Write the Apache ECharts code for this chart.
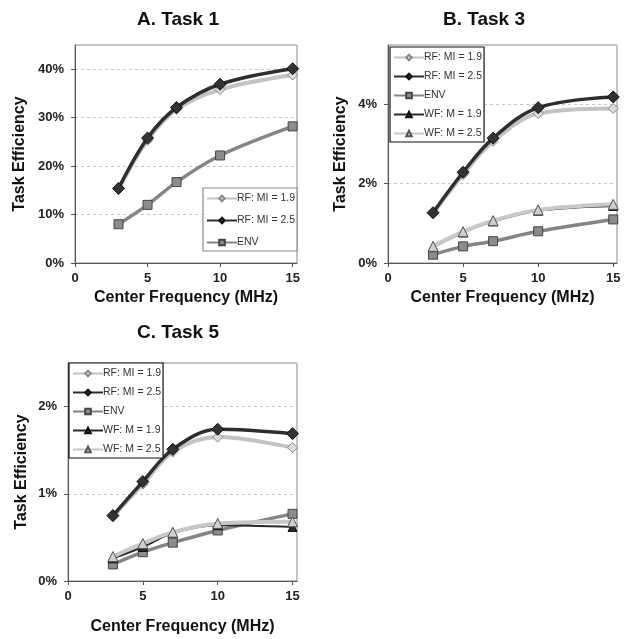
<!DOCTYPE html>
<html>
<head>
<meta charset="utf-8">
<script src="https://cdn.jsdelivr.net/npm/echarts@6/dist/echarts.min.js"></script>
<style>
html,body{margin:0;padding:0;background:#fff;}
#chart{width:633px;height:639px;}
</style>
</head>
<body>
<div id="chart"></div>
<script>
// ---- data ----
var freqs = [3, 5, 7, 10, 15];
var xTicks = [0, 5, 10, 15];

// A. Task 1 (%)
var a_rf19 = [15.2, 25.3, 31.7, 35.8, 38.8];
var a_rf25 = [15.4, 25.8, 32.1, 36.9, 40.1];
var a_env  = [8.0, 12.0, 16.7, 22.2, 28.2];

// B. Task 3 (%)
var b_rf19 = [1.25, 2.23, 3.07, 3.77, 3.90];
var b_rf25 = [1.27, 2.29, 3.15, 3.92, 4.19];
var b_env  = [0.21, 0.42, 0.55, 0.80, 1.10];
var b_wf19 = [0.40, 0.77, 1.05, 1.32, 1.44];
var b_wf25 = [0.42, 0.79, 1.07, 1.34, 1.48];

// C. Task 5 (%)
var c_rf19 = [0.74, 1.11, 1.48, 1.65, 1.53];
var c_rf25 = [0.75, 1.14, 1.51, 1.74, 1.69];
var c_env  = [0.19, 0.33, 0.44, 0.58, 0.77];
var c_wf19 = [0.26, 0.39, 0.55, 0.64, 0.62];
var c_wf25 = [0.28, 0.43, 0.56, 0.66, 0.68];

var titles = ['A. Task 1', 'B. Task 3', 'C. Task 5'];
var yAxisName = 'Task Efficiency';
var xAxisName = 'Center Frequency (MHz)';
var names = ['RF: MI = 1.9', 'RF: MI = 2.5', 'ENV', 'WF: M = 1.9', 'WF: M = 2.5'];

// ---- styles ----
var FONT = '"Liberation Sans", Arial, sans-serif';
var styles = [
  {color:'#c3c3c3', width:4, symbol:'diamond', size:10, fill:'#dcdcdc', border:'#8a8a8a'},
  {color:'#2e2e2e', width:3.5, symbol:'diamond', size:12, fill:'#333', border:'#111'},
  {color:'#858585', width:3.5, symbol:'rect', size:9, fill:'#8c8c8c', border:'#444'},
  {color:'#2a2a2a', width:2, symbol:'triangle', size:9, fill:'#2a2a2a', border:'#111'},
  {color:'#c8c8c8', width:4, symbol:'triangle', size:10, fill:'#cfcfcf', border:'#555'}
];

function pairs(vals){ return freqs.map(function(f,i){ return [f, vals[i]]; }); }

var grids = [
  {left:75, top:45, width:222, height:218},
  {left:388, top:45, width:229, height:218},
  {left:68, top:363, width:229, height:218}
];
var yMax = [45, 5.5, 2.5];
var yInt = [10, 2, 1];
var xMax = [15.3, 15.25, 15.3];
var yNameGap = [47, 39, 38];
var xNameGap = [27, 27, 38];

var chartData = [
  [a_rf19, a_rf25, a_env],
  [b_rf19, b_rf25, b_env, b_wf19, b_wf25],
  [c_rf19, c_rf25, c_env, c_wf19, c_wf25]
];

var option = {
  backgroundColor:'#fff',
  animation:false,
  title:[], grid:[], xAxis:[], yAxis:[], series:[], legend:[]
};

var titlePos = [[173, 5], [479, 5], [173, 318]];

for (var g = 0; g < 3; g++) {
  option.title.push({
    text: titles[g], left: titlePos[g][0], top: titlePos[g][1], textAlign:'center',
    textStyle:{fontFamily:FONT, fontSize:19, fontWeight:'bold', color:'#111'}
  });
  var gr = grids[g];
  option.grid.push({left:gr.left, top:gr.top, width:gr.width, height:gr.height,
    show:true, borderColor:'#8a8a8a', borderWidth:1, backgroundColor:'transparent', containLabel:false});
  option.xAxis.push({
    type:'value', gridIndex:g, min:0, max:xMax[g], interval:5,
    name:xAxisName, nameLocation:'middle', nameGap:xNameGap[g],
    nameTextStyle:{fontFamily:FONT, fontSize:16, fontWeight:'bold', color:'#111'},
    axisLine:{show:true, onZero:false, lineStyle:{color:'#555', width:1}},
    axisTick:{show:true, length:4, lineStyle:{color:'#555'}},
    axisLabel:{show:true, margin:9, fontFamily:FONT, fontSize:13, fontWeight:'bold', color:'#222',
      showMaxLabel:false,
      formatter:function(v){ return xTicks.indexOf(v) >= 0 ? String(v) : ''; }},
    splitLine:{show:false}
  });
  (function(gi){
    option.yAxis.push({
      type:'value', gridIndex:gi, min:0, max:yMax[gi], interval:yInt[gi],
      name:yAxisName, nameLocation:'middle', nameGap:yNameGap[gi],
      nameTextStyle:{fontFamily:FONT, fontSize:16, fontWeight:'bold', color:'#111'},
      axisLine:{show:true, lineStyle:{color:'#555', width:1}},
      axisTick:{show:true, length:4, lineStyle:{color:'#555'}},
      axisLabel:{show:true, margin:11, fontFamily:FONT, fontSize:13, fontWeight:'bold', color:'#222',
        showMaxLabel:false,
        formatter:function(v){ return (Math.abs(v / yInt[gi] - Math.round(v / yInt[gi])) < 1e-6) ? v + '%' : ''; }},
      splitLine:{show:true, lineStyle:{color:'#c8c8c8', type:[3,3], width:1}}
    });
  })(g);
  var legendNames = [];
  for (var s = 0; s < chartData[g].length; s++) {
    var st = styles[s];
    legendNames.push(names[s]);
    option.series.push({
      type:'line', name:names[s], xAxisIndex:g, yAxisIndex:g,
      data:pairs(chartData[g][s]), smooth:0.35,
      symbol:st.symbol, symbolSize:st.size, showAllSymbol:true,
      lineStyle:{color:st.color, width:st.width},
      itemStyle:{color:st.fill, borderColor:st.border, borderWidth:1},
      z: 2 + s
    });
  }
  var legPos = [
    {left:203, top:188, borderColor:'#8a8a8a', itemGap:11},
    {left:390, top:47, borderColor:'#111', itemGap:8},
    {left:69, top:363, borderColor:'#111', itemGap:8}
  ][g];
  option.legend.push({
    data:legendNames, orient:'vertical', left:legPos.left, top:legPos.top,
    backgroundColor:'#fff', borderColor:legPos.borderColor, borderWidth:1.2,
    padding:[5,2,3,3], itemGap:legPos.itemGap, itemWidth:30, itemHeight:7,
    selectedMode:false, z:10,
    textStyle:{fontFamily:FONT, fontSize:10.5, color:'#333', padding:[0,0,0,-5]}
  });
}

var chart = echarts.init(document.getElementById('chart'), null, {renderer:'canvas'});
chart.setOption(option);
</script>
</body>
</html>
